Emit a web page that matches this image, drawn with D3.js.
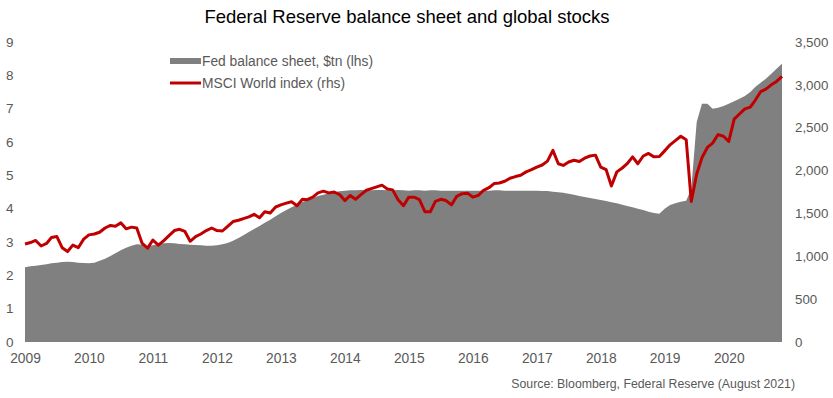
<!DOCTYPE html>
<html>
<head>
<meta charset="utf-8">
<script src="https://cdn.jsdelivr.net/npm/d3@7"></script>
<style>
  body { margin: 0; background: #fff; }
  text { font-family: Arial, 'Liberation Sans', sans-serif; fill: #595959; }
</style>
</head>
<body>
<div class="canvas"></div>
<script>
// monthly readings, Oct 2009 .. Aug 2021
const firstMonth = new Date(2009, 9, 1)

const fedBalance = [
  2.24, 2.27, 2.29, 2.31, 2.33, 2.36, 2.38, 2.40, 2.41, 2.40, 2.38, 2.37,
  2.36, 2.38, 2.44, 2.50, 2.58, 2.66, 2.75, 2.83, 2.89, 2.93, 2.92, 2.88,
  2.90, 2.93, 2.96, 2.97, 2.96, 2.94, 2.93, 2.92, 2.91, 2.90, 2.89, 2.89,
  2.90, 2.93, 2.97, 3.04, 3.12, 3.20, 3.30, 3.39, 3.48, 3.58, 3.67, 3.77,
  3.87, 3.96, 4.04, 4.12, 4.20, 4.26, 4.32, 4.38, 4.42, 4.46, 4.49, 4.52,
  4.54, 4.55, 4.55, 4.56, 4.56, 4.55, 4.56, 4.56, 4.55, 4.55, 4.56, 4.55,
  4.54, 4.55, 4.55, 4.54, 4.55, 4.55, 4.54, 4.54, 4.54, 4.54, 4.54, 4.54,
  4.54, 4.54, 4.54, 4.54, 4.55, 4.55, 4.54, 4.54, 4.54, 4.54, 4.54, 4.54,
  4.54, 4.53, 4.53, 4.51, 4.49, 4.48, 4.45, 4.42, 4.38, 4.35, 4.32, 4.29,
  4.26, 4.23, 4.19, 4.16, 4.12, 4.08, 4.04, 4.00, 3.96, 3.91, 3.87, 3.85,
  4.00, 4.11, 4.16, 4.21, 4.24, 4.60, 6.60, 7.15, 7.15, 7.00, 7.03, 7.08,
  7.15, 7.22, 7.30, 7.38, 7.50, 7.65, 7.78, 7.90, 8.05, 8.20, 8.35
]

const msciWorld = [
  1143, 1160, 1185, 1120, 1150, 1220, 1230, 1100, 1055, 1130, 1100, 1200,
  1250, 1260, 1280, 1330, 1360, 1350, 1390, 1320, 1340, 1330, 1150, 1095,
  1190, 1130, 1180, 1240, 1300, 1315, 1290, 1175, 1230, 1260, 1300, 1330,
  1300, 1295, 1350, 1405, 1420, 1440, 1460, 1490, 1450, 1520, 1505, 1575,
  1600, 1620, 1637, 1590, 1665, 1660, 1690, 1740, 1760, 1740, 1750, 1720,
  1650, 1710, 1665, 1720, 1770, 1790, 1810, 1830, 1785, 1775, 1660, 1590,
  1690, 1690, 1660, 1520, 1520, 1640, 1665, 1650, 1600, 1700, 1730, 1735,
  1690, 1710, 1770, 1800, 1850, 1855, 1875, 1910, 1930, 1945, 1985, 2010,
  2040, 2065, 2110, 2235, 2080, 2060, 2100, 2120, 2105, 2145, 2170, 2180,
  2040, 2010, 1820, 1985, 2030, 2080, 2160, 2080, 2170, 2200, 2160, 2165,
  2230, 2300, 2350, 2400, 2360, 1640, 1960, 2150, 2270, 2320, 2420, 2400,
  2340, 2600, 2660, 2720, 2740, 2820, 2920, 2950, 3000, 3040, 3100
]

const yearLabels = ['2009', '2010', '2011', '2012', '2013', '2014',
                    '2015', '2016', '2017', '2018', '2019', '2020']
const leftTicks = [0, 1, 2, 3, 4, 5, 6, 7, 8, 9]
const rightTicks = [0, 500, 1000, 1500, 2000, 2500, 3000, 3500]

const title = 'Federal Reserve balance sheet and global stocks'
const source = 'Source: Bloomberg, Federal Reserve (August 2021)'
const legendNames = ['Fed balance sheet, $tn (lhs)', 'MSCI World index (rhs)']

const data = fedBalance.map((v, i) => ({
  date: d3.timeMonth.offset(firstMonth, i),
  fed: v,
  msci: msciWorld[i]
}))

const width = 833
const height = 398
const plot = {left: 25, right: 782, top: 42, bottom: 342}

const svg = d3.select('.canvas')
              .append('svg')
              .attr('width', width)
              .attr('height', height)

const x = d3.scaleTime()
  .domain(d3.extent(data, d => d.date))
  .range([plot.left, plot.right])
const yLeft = d3.scaleLinear().domain([0, 9]).range([plot.bottom, plot.top])
const yRight = d3.scaleLinear().domain([0, 3500]).range([plot.bottom, plot.top])

// grey area for balance sheet
const area = d3.area()
  .x(d => x(d.date))
  .y0(yLeft(0))
  .y1(d => yLeft(d.fed))

svg.append('path')
   .datum(data)
   .attr('d', area)
   .attr('fill', '#808080')

// red line for msci
const line = d3.line()
  .x(d => x(d.date))
  .y(d => yRight(d.msci))

svg.append('path')
   .datum(data)
   .attr('d', line)
   .attr('fill', 'none')
   .attr('stroke', '#c00000')
   .attr('stroke-width', 3)
   .attr('stroke-linejoin', 'round')

// axes
const tickDates = yearLabels.map((d, i) => d3.timeYear.offset(firstMonth, i))
const xAxis = d3.axisBottom(x)
  .tickValues(tickDates)
  .tickFormat((d, i) => yearLabels[i])
  .tickSize(0)
  .tickPadding(0)

const xg = svg.append('g')
  .attr('transform', `translate(0, ${plot.bottom})`)
  .call(xAxis)
xg.select('.domain').remove()
xg.selectAll('text')
  .attr('y', 21)
  .attr('dy', 0)
  .style('font-size', '13.8px')

const leftAxis = d3.axisLeft(yLeft).tickValues(leftTicks).tickSize(0).tickPadding(0)
const lg = svg.append('g').attr('transform', 'translate(13.5, 0)').call(leftAxis)
lg.select('.domain').remove()
lg.selectAll('text').style('font-size', '13.5px')

const rightAxis = d3.axisRight(yRight)
  .tickValues(rightTicks)
  .tickFormat(d3.format(','))
  .tickSize(0)
  .tickPadding(0)
const rg = svg.append('g').attr('transform', 'translate(795, 0)').call(rightAxis)
rg.select('.domain').remove()
rg.selectAll('text').style('font-size', '13.3px')

svg.selectAll('.tick text').attr('fill', '#595959').style('font-family', 'Arial, "Liberation Sans", sans-serif')

// title and source
svg.append('text')
   .attr('x', 407)
   .attr('y', 23)
   .attr('text-anchor', 'middle')
   .style('font-size', '18.5px')
   .style('fill', '#000')
   .text(title)

svg.append('text')
   .attr('x', 795)
   .attr('y', 388)
   .attr('text-anchor', 'end')
   .style('font-size', '12.3px')
   .text(source)

// legend
const legendGroup = svg.append('g').attr('transform', 'translate(170, 0)')

legendGroup.append('rect')
  .attr('x', 0).attr('y', 58)
  .attr('width', 31).attr('height', 6)
  .attr('fill', '#808080')
legendGroup.append('line')
  .attr('x1', 0).attr('x2', 31)
  .attr('y1', 83).attr('y2', 83)
  .attr('stroke', '#c00000')
  .attr('stroke-width', 3)

legendGroup.selectAll('text.leg')
  .data(legendNames)
  .enter()
  .append('text')
  .attr('class', 'leg')
  .attr('x', 32)
  .attr('y', (d, i) => 66 + i * 22)
  .style('font-size', '13.8px')
  .text(d => d)
</script>
</body>
</html>
